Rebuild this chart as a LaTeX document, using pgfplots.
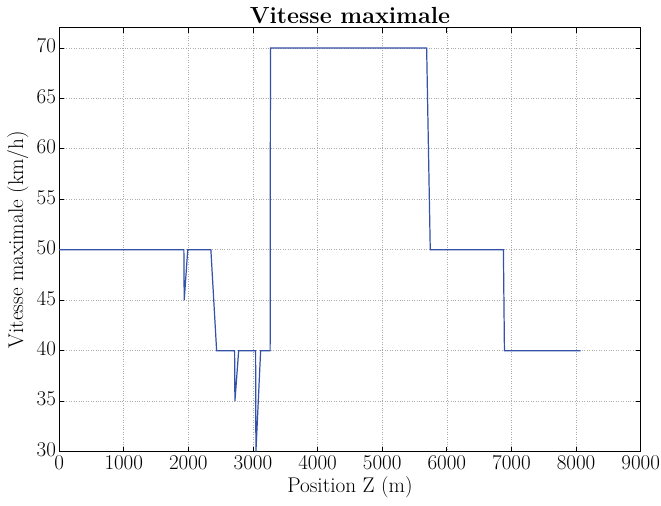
\documentclass[border=0pt]{standalone}
\usepackage{pgfplots}
\pgfplotsset{compat=1.18}
\definecolor{lineblue}{rgb}{0.2,0.32,0.66}
\begin{document}
\fontsize{21}{24}\selectfont
\begin{tikzpicture}
\begin{axis}[
  scale only axis,
  width=572bp, height=417bp,
  xmin=0, xmax=9000, ymin=30, ymax=72,
  xtick={0,1000,...,9000},
  ytick={30,35,...,70},
  scaled x ticks=false,
  xticklabel style={/pgf/number format/1000 sep={}, inner sep=1pt, yshift=-3pt},
  yticklabel style={inner sep=1pt, xshift=-2pt, yshift=2pt},
  tick align=inside,
  tick pos=both,
  major tick length=5pt,
  grid=major,
  grid style={dotted, gray!65, line width=0.7pt},
  axis line style={line width=1pt},
  every tick/.style={black, line width=0.8pt},
  title={\textbf{Vitesse maximale}},
  title style={yshift=-9pt, font=\fontsize{23}{26}\selectfont},
  xlabel={Position Z (m)},
  ylabel={Vitesse maximale (km/h)},
  xlabel style={yshift=1pt},
  ylabel style={yshift=0pt},
  ticklabel style={font=\fontsize{21}{24}\selectfont},
  label style={font=\fontsize{21}{24}\selectfont},
]
\addplot[lineblue, line width=1.2pt] coordinates {
(0,50) (1930,50) (1935,45) (1990,50) (2348,50) (2437,40) (2715,40) (2720,35)
(2778,40) (3040,40) (3045,30) (3118,40) (3265,40) (3270,70) (5687,70) (5743,50)
(6875,50) (6891,40) (8071,40)
};
\end{axis}
\end{tikzpicture}
\end{document}
